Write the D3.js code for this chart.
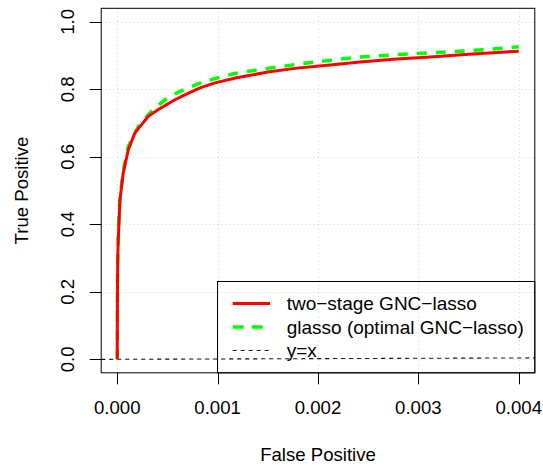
<!DOCTYPE html>
<html>
<head>
<meta charset="utf-8">
<script src="https://cdn.jsdelivr.net/npm/d3@7"></script>
<style>
  body { margin: 0; background: #fff; }
  text { font-family: "Liberation Sans", Arial, sans-serif; fill: #000; }
</style>
</head>
<body>
<svg id="chart" width="543" height="466"></svg>
<script>
// ROC curves
const fpTwoStage = [0, 0.000002, 0.000005, 0.00001, 0.000027, 0.00006, 0.00011, 0.000176, 0.00031, 0.000409,
  0.000575, 0.000658, 0.000824, 0.000974, 0.00119, 0.0015, 0.00177, 0.00199, 0.00212, 0.00242,
  0.00275, 0.00312, 0.0035, 0.004];
const tpTwoStage = [0, 0.2, 0.3, 0.354, 0.473, 0.552, 0.621, 0.671, 0.72, 0.74,
  0.769, 0.781, 0.804, 0.819, 0.834, 0.851, 0.862, 0.868, 0.872, 0.881,
  0.889, 0.896, 0.904, 0.913];
const fpGlasso = [0, 0.000003, 0.00001, 0.000025, 0.000044, 0.00007, 0.00011, 0.00021, 0.00034, 0.000475,
  0.000625, 0.000874, 0.00117, 0.0015, 0.00195, 0.00239, 0.0028, 0.0033, 0.0037, 0.004];
const tpGlasso = [0, 0.25, 0.38, 0.47, 0.522, 0.575, 0.631, 0.69, 0.735, 0.769,
  0.794, 0.824, 0.847, 0.862, 0.88, 0.895, 0.903, 0.911, 0.918, 0.926];

const xTicks = [0, 0.001, 0.002, 0.003, 0.004];
const yTicks = [0, 0.2, 0.4, 0.6, 0.8, 1.0];
const legendLabels = ["two\u2212stage GNC\u2212lasso", "glasso (optimal GNC\u2212lasso)", "y=x"];

const svg = d3.select("#chart");
const fs = 18.6;

// plot region (R style 4% extension)
const x = d3.scaleLinear().domain([-0.00016, 0.00416]).range([101.2, 534.8]);
const y = d3.scaleLinear().domain([-0.04, 1.04]).range([372.8, 8.3]);
const [x0, x1] = x.range();
const [y0, y1] = y.range();

svg.append("clipPath").attr("id", "clip")
  .append("rect").attr("x", x0).attr("y", y1).attr("width", x1 - x0).attr("height", y0 - y1);

// grid()
const grid = svg.append("g").attr("stroke", "#d3d3d3").attr("stroke-width", 1).attr("stroke-dasharray", "1,3");
grid.selectAll("line.v").data(xTicks).join("line")
  .attr("x1", d => Math.round(x(d)) + 0.5).attr("x2", d => Math.round(x(d)) + 0.5)
  .attr("y1", y1).attr("y2", y0);
grid.selectAll("line.h").data(yTicks).join("line")
  .attr("y1", d => Math.round(y(d)) + 0.5).attr("y2", d => Math.round(y(d)) + 0.5)
  .attr("x1", x0).attr("x2", x1);

const plot = svg.append("g").attr("clip-path", "url(#clip)");

// y = x reference line
plot.append("line")
  .attr("x1", x(x.domain()[0])).attr("y1", y(x.domain()[0]))
  .attr("x2", x(x.domain()[1])).attr("y2", y(x.domain()[1]))
  .attr("stroke", "#111").attr("stroke-width", 1.1).attr("stroke-dasharray", "4,4");

const line = d3.line().x(d => x(d[0])).y(d => y(d[1]));

plot.append("path")
  .datum(d3.zip(fpGlasso, tpGlasso))
  .attr("d", line).attr("fill", "none")
  .attr("stroke", "#00ff00").attr("stroke-width", 3.5).attr("stroke-dasharray", "10,9");

plot.append("path")
  .datum(d3.zip(fpTwoStage, tpTwoStage))
  .attr("d", line).attr("fill", "none")
  .attr("stroke", "#ff0000").attr("stroke-width", 3).attr("stroke-linejoin", "round");

// box
svg.append("rect").attr("x", x0).attr("y", y1).attr("width", x1 - x0).attr("height", y0 - y1)
  .attr("fill", "none").attr("stroke", "#000").attr("stroke-width", 1);

// x axis
const xAxis = svg.append("g");
xAxis.selectAll("line").data(xTicks).join("line")
  .attr("x1", d => Math.round(x(d)) + 0.5).attr("x2", d => Math.round(x(d)) + 0.5)
  .attr("y1", y0).attr("y2", y0 + 11.5).attr("stroke", "#000");
xAxis.selectAll("text").data(xTicks).join("text")
  .attr("x", d => x(d)).attr("y", 414).attr("text-anchor", "middle")
  .attr("font-size", fs).text(d => d3.format(".3f")(d));

// y axis
const yAxis = svg.append("g");
yAxis.selectAll("line").data(yTicks).join("line")
  .attr("y1", d => Math.round(y(d)) + 0.5).attr("y2", d => Math.round(y(d)) + 0.5)
  .attr("x1", x0).attr("x2", x0 - 11.5).attr("stroke", "#000");
yAxis.selectAll("text").data(yTicks).join("text")
  .attr("transform", d => `translate(74,${y(d)}) rotate(-90)`)
  .attr("text-anchor", "middle").attr("font-size", fs).text(d => d3.format(".1f")(d));

// axis titles
svg.append("text").attr("x", (x0 + x1) / 2).attr("y", 461).attr("text-anchor", "middle")
  .attr("font-size", fs).text("False Positive");
svg.append("text").attr("transform", `translate(28,${(y0 + y1) / 2}) rotate(-90)`)
  .attr("text-anchor", "middle").attr("font-size", fs).text("True Positive");

// legend (bottomright)
const lg = svg.append("g");
lg.append("rect").attr("x", 217.5).attr("y", 281.5).attr("width", x1 - 217.5).attr("height", y0 - 281.5)
  .attr("fill", "none").attr("stroke", "#000").attr("stroke-width", 1);
const legendStyles = [
  { stroke: "#ff0000", w: 3, dash: null },
  { stroke: "#00ff00", w: 3.5, dash: "11,8" },
  { stroke: "#111", w: 1.1, dash: "4,4" }
];
const rowY = [303.5, 327, 350.5];
legendLabels.forEach((lab, i) => {
  const s = legendStyles[i];
  lg.append("line").attr("x1", 232.7).attr("x2", 270).attr("y1", rowY[i]).attr("y2", rowY[i])
    .attr("stroke", s.stroke).attr("stroke-width", s.w).attr("stroke-dasharray", s.dash);
  lg.append("text").attr("x", 286.7).attr("y", rowY[i] + 6.6).attr("font-size", 19).text(lab);
});
</script>
</body>
</html>
